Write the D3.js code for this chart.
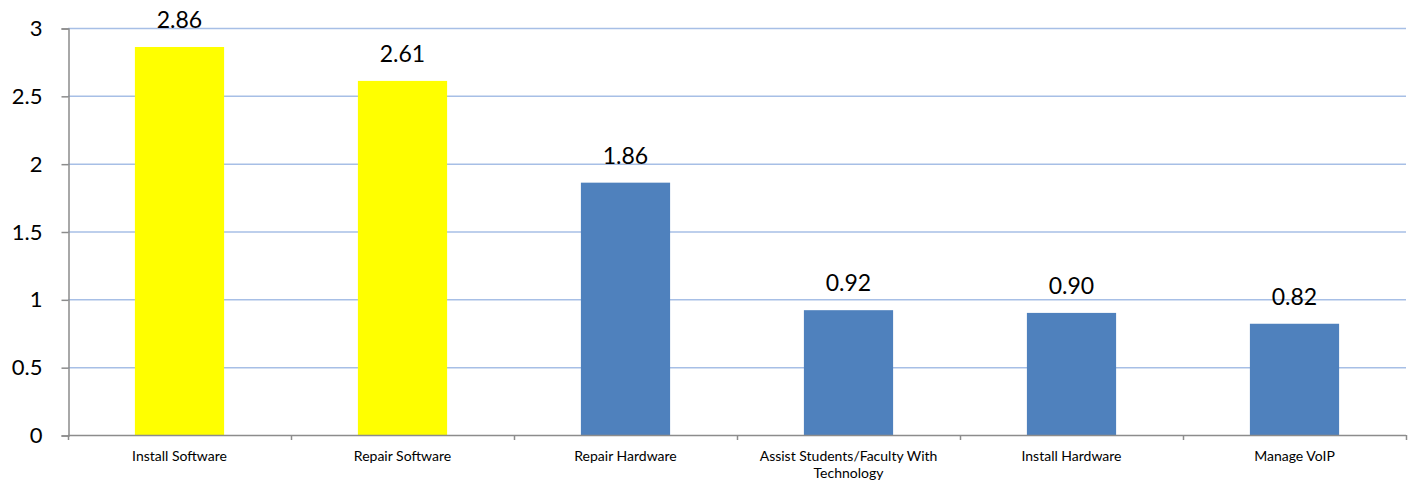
<!DOCTYPE html>
<html>
<head>
<meta charset="utf-8">
<script src="https://cdn.jsdelivr.net/npm/d3@7"></script>
<style>
body { margin: 0; background: #fff; }
text { font-family: Lato, "Open Sans", sans-serif; }
</style>
</head>
<body>
<div id="chart-area"></div>
<script>
let width = 1416,
height = 487;

// data
let categories = ["Install Software", "Repair Software", "Repair Hardware",
	"Assist Students/Faculty With Technology", "Install Hardware", "Manage VoIP"];
let values = [2.86, 2.61, 1.86, 0.92, 0.90, 0.82];
let highlighted = [true, true, false, false, false, false];
let yTicks = [0, 0.5, 1, 1.5, 2, 2.5, 3];

let margin = {top: 28, right: 10, bottom: 52, left: 68};

let svg = d3.select("#chart-area").append("svg")
	.attr("width", width)
	.attr("height", height);

let x = d3.scaleBand()
	.domain(categories)
	.range([margin.left, width - margin.right]);

let y = d3.scaleLinear()
	.domain([0, 3])
	.range([height - margin.bottom, margin.top]);

// gridlines
svg.selectAll(".grid")
	.data(yTicks.filter(d => d > 0))
	.enter().append("line")
	.attr("class", "grid")
	.attr("x1", margin.left)
	.attr("x2", width - margin.right)
	.attr("y1", d => y(d) + 0.5)
	.attr("y2", d => y(d) + 0.5)
	.attr("stroke", "#a7bfe6")
	.attr("stroke-width", 1.5);

// bars
let bw = x.bandwidth() * 0.4;
svg.selectAll(".bar")
	.data(values)
	.enter().append("rect")
	.attr("class", "bar")
	.attr("x", (d, i) => x(categories[i]) + x.bandwidth() / 2 - bw / 2)
	.attr("width", bw)
	.attr("y", d => y(d))
	.attr("height", d => y(0) - y(d))
	.attr("fill", (d, i) => highlighted[i] ? "#ffff00" : "#4f81bd");

// value labels
svg.selectAll(".val")
	.data(values)
	.enter().append("text")
	.attr("class", "val")
	.attr("x", (d, i) => x(categories[i]) + x.bandwidth() / 2)
	.attr("y", d => y(d) - 19)
	.attr("text-anchor", "middle")
	.attr("font-size", 23)
	.attr("fill", "#000")
	.text(d => d.toFixed(2));

// y axis
let yAxis = d3.axisLeft(y)
	.tickValues(yTicks)
	.tickSize(7)
	.tickFormat(d3.format("~g"));
let gy = svg.append("g")
	.attr("transform", "translate(" + (margin.left + 0.5) + ",0.5)")
	.call(yAxis);
gy.select(".domain").attr("stroke", "#8c8c8c").attr("stroke-width", 1.5);
gy.selectAll(".tick line").attr("stroke", "#8c8c8c").attr("stroke-width", 1.5);
gy.selectAll(".tick text")
	.attr("font-size", 22)
	.attr("fill", "#000")
	.attr("x", -26)
	.style("font-family", "Lato, sans-serif");

// x axis line and ticks at band boundaries
let boundaries = categories.map(c => x(c)).concat([x.range()[1]]);
svg.append("line")
	.attr("x1", margin.left)
	.attr("x2", width - margin.right)
	.attr("y1", y(0) + 0.5)
	.attr("y2", y(0) + 0.5)
	.attr("stroke", "#8c8c8c")
	.attr("stroke-width", 1.5);
svg.selectAll(".xtick")
	.data(boundaries)
	.enter().append("line")
	.attr("x1", d => d + 0.5)
	.attr("x2", d => d + 0.5)
	.attr("y1", y(0))
	.attr("y2", y(0) + 5)
	.attr("stroke", "#8c8c8c")
	.attr("stroke-width", 1.5);

// x labels, wrapped
svg.selectAll(".xlab")
	.data(categories)
	.enter().append("text")
	.attr("class", "xlab")
	.attr("text-anchor", "middle")
	.attr("font-size", 14)
	.attr("fill", "#000")
	.each(function(d) {
		let t = d3.select(this);
		let cx = x(d) + x.bandwidth() / 2;
		let lines = d.length > 30 ? ["Assist Students/Faculty With", "Technology"] : [d];
		lines.forEach((l, i) => {
			t.append("tspan")
				.attr("x", cx)
				.attr("y", y(0) + 26 + i * 17)
				.text(l);
		});
	});
</script>
</body>
</html>
